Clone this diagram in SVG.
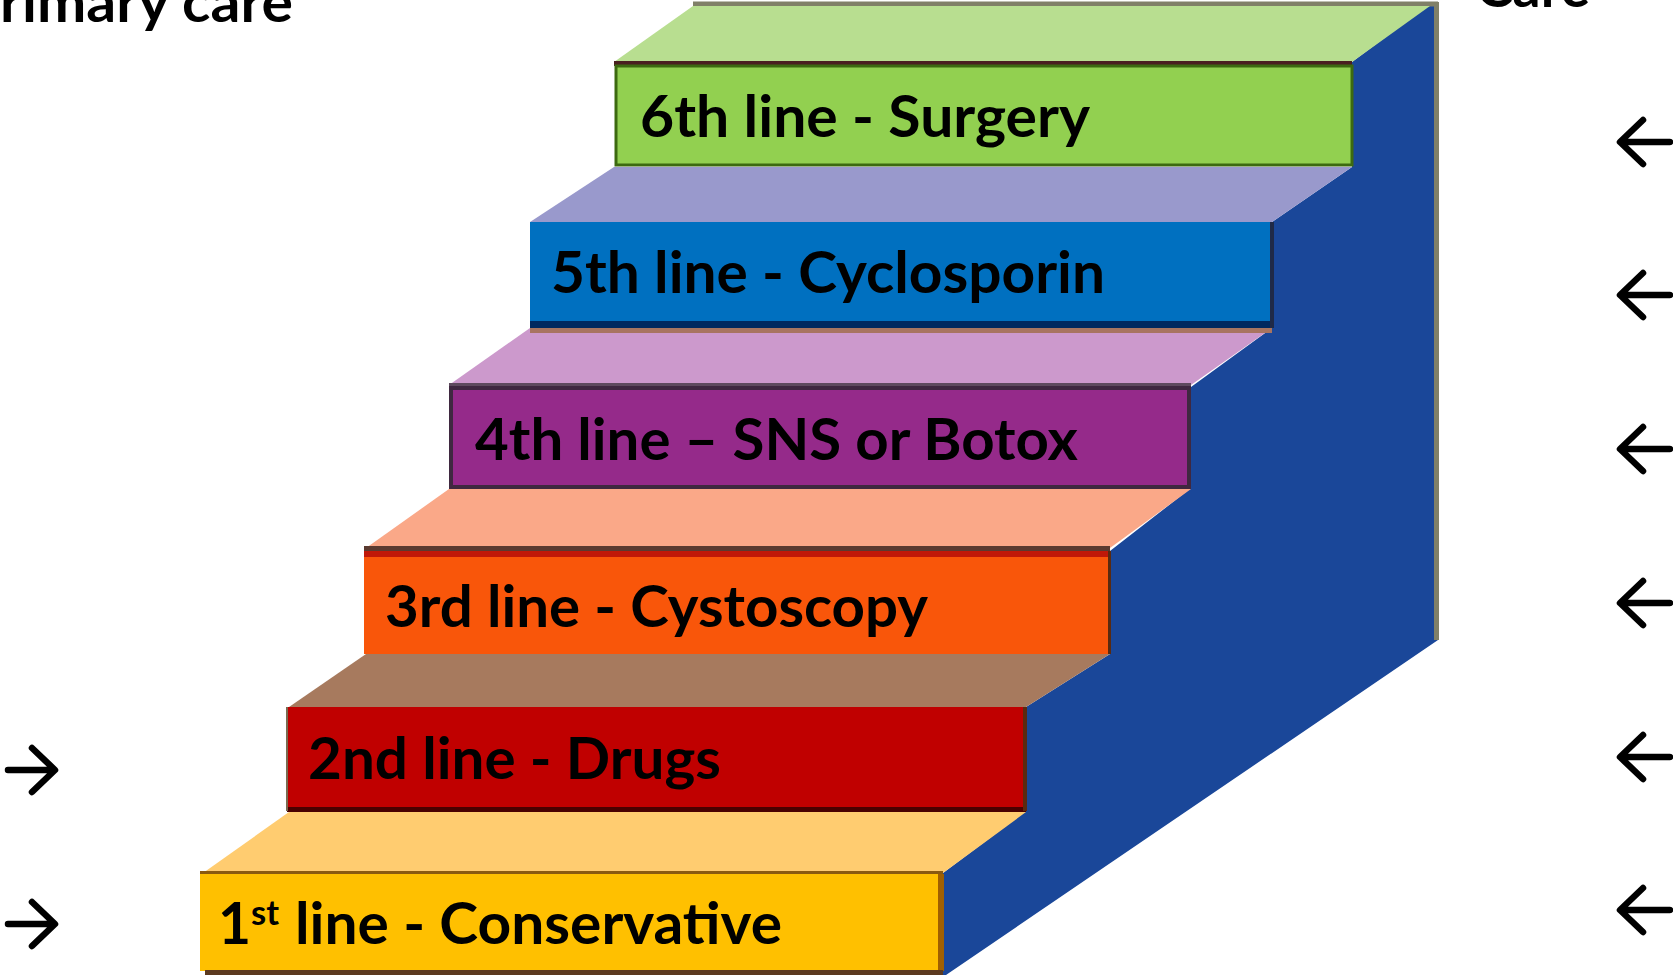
<svg xmlns="http://www.w3.org/2000/svg" width="1673" height="975" viewBox="0 0 1673 975">
<defs>
<style>
.lbl{font-family:Lato,"Open Sans","Liberation Sans",sans-serif;font-weight:bold;font-size:57px;fill:#000}
.hdr{font-family:Lato,"Open Sans","Liberation Sans",sans-serif;font-weight:bold;font-size:56px;fill:#000}
.arr{fill:none;stroke:#000;stroke-width:6.5;stroke-linecap:round;stroke-linejoin:round}
.face{stroke:none}
</style>
</defs>
<rect width="1673" height="975" fill="#fff"/>
<g id="headers">
<text class="hdr" x="0" y="22" textLength="293" lengthAdjust="spacingAndGlyphs">rimary care</text>
<text class="hdr" x="1476" y="7" textLength="114" lengthAdjust="spacingAndGlyphs">Care</text>
</g>
<g id="side">
<polygon points="1352,62 1430,4 1438,4 1438,640 946,975 943,975 943,873 1026,811 1026,707 1110,654 1110,551 1191,488 1191,387 1272,328 1272,222 1352,167" fill="#1A4799"/>
<rect x="1434" y="2" width="5" height="638" fill="#808068"/>
<polyline points="693,4 1438,4" stroke="#808068" stroke-width="5" fill="none"/>
</g>
<g id="step6">
<polygon class="face" points="614,62 693,6 1430,6 1352,62" fill="#B8DE90"/>
<rect x="614" y="61" width="738" height="5" fill="#4a2020"/>
<rect x="616" y="66" width="736" height="99" fill="#92D050" stroke="#3C6A10" stroke-width="3"/>
<text class="lbl" x="640" y="137" textLength="450" lengthAdjust="spacingAndGlyphs">6th line - Surgery</text>
</g>
<g id="step5">
<polygon class="face" points="530,222 614,167 1352,167 1272,222" fill="#9999CC"/>
<rect x="530" y="222" width="742" height="99" fill="#0070C0"/>
<rect x="530" y="321" width="742" height="7" fill="#00285F"/>
<rect x="1270" y="222" width="4" height="106" fill="#1f2a48"/>
<text class="lbl" x="551" y="293" textLength="554" lengthAdjust="spacingAndGlyphs">5th line - Cyclosporin</text>
</g>
<g id="step4">
<polygon class="face" points="449,385 530,328 1272,328 1191,385" fill="#CC99CC"/>
<rect x="530" y="328" width="742" height="5" fill="#A87460"/>
<rect x="449" y="383" width="742" height="4" fill="#5E4A5E"/>
<rect x="451" y="388" width="738" height="99" fill="#952A8A" stroke="#3F2840" stroke-width="4"/>
<text class="lbl" x="475" y="460" textLength="603" lengthAdjust="spacingAndGlyphs">4th line – SNS or Botox</text>
</g>
<g id="step3">
<polygon class="face" points="366,548 449,489 1191,489 1110,548" fill="#FAA888"/>
<rect x="364" y="546" width="746" height="5" fill="#5A3A30"/>
<rect x="364" y="551" width="746" height="6" fill="#C01808"/>
<rect x="364" y="557" width="746" height="97" fill="#F9560A"/>
<rect x="1108" y="551" width="3" height="103" fill="#5a2a10"/>
<text class="lbl" x="385" y="627" textLength="543" lengthAdjust="spacingAndGlyphs">3rd line - Cystoscopy</text>
</g>
<g id="step2">
<polygon class="face" points="289,707 366,654 1110,654 1026,707" fill="#A77A5E"/>
<rect x="287" y="707" width="739" height="102" fill="#C00000"/>
<rect x="287" y="807" width="739" height="5" fill="#4A0000"/>
<rect x="1023" y="707" width="4" height="104" fill="#5a2a10"/>
<rect x="286" y="707" width="2" height="104" fill="#7a6a50"/>
<text class="lbl" x="308" y="779" textLength="413" lengthAdjust="spacingAndGlyphs">2nd line - Drugs</text>
</g>
<g id="step1">
<polygon class="face" points="203,873 289,812 1026,812 943,873" fill="#FFCC70"/>
<rect x="200" y="871" width="743" height="3" fill="#8A5A10"/>
<rect x="200" y="874" width="743" height="97" fill="#FFC000"/>
<rect x="938" y="874" width="6" height="97" fill="#A06000"/>
<rect x="205" y="970" width="738" height="5" fill="#5C3A20"/>
<text class="lbl" x="218" y="944">1</text>
<text class="lbl" x="251" y="925" style="font-size:35px" textLength="28" lengthAdjust="spacingAndGlyphs">st</text>
<text class="lbl" x="295" y="944" textLength="487" lengthAdjust="spacingAndGlyphs">line - Conservative</text>
</g>
<g id="connectors">
<path class="arr" d="M8,770 H54 M32,748 L55,770 L32,792"/>
<path class="arr" d="M8,924 H54 M32,902 L55,924 L32,946"/>
<path class="arr" d="M1670,142 H1621 M1643,120 L1620,142 L1643,164"/>
<path class="arr" d="M1670,295 H1621 M1643,273 L1620,295 L1643,317"/>
<path class="arr" d="M1670,449 H1621 M1643,427 L1620,449 L1643,471"/>
<path class="arr" d="M1670,603 H1621 M1643,581 L1620,603 L1643,625"/>
<path class="arr" d="M1670,757 H1621 M1643,735 L1620,757 L1643,779"/>
<path class="arr" d="M1670,910 H1621 M1643,888 L1620,910 L1643,932"/>
</g>
</svg>
